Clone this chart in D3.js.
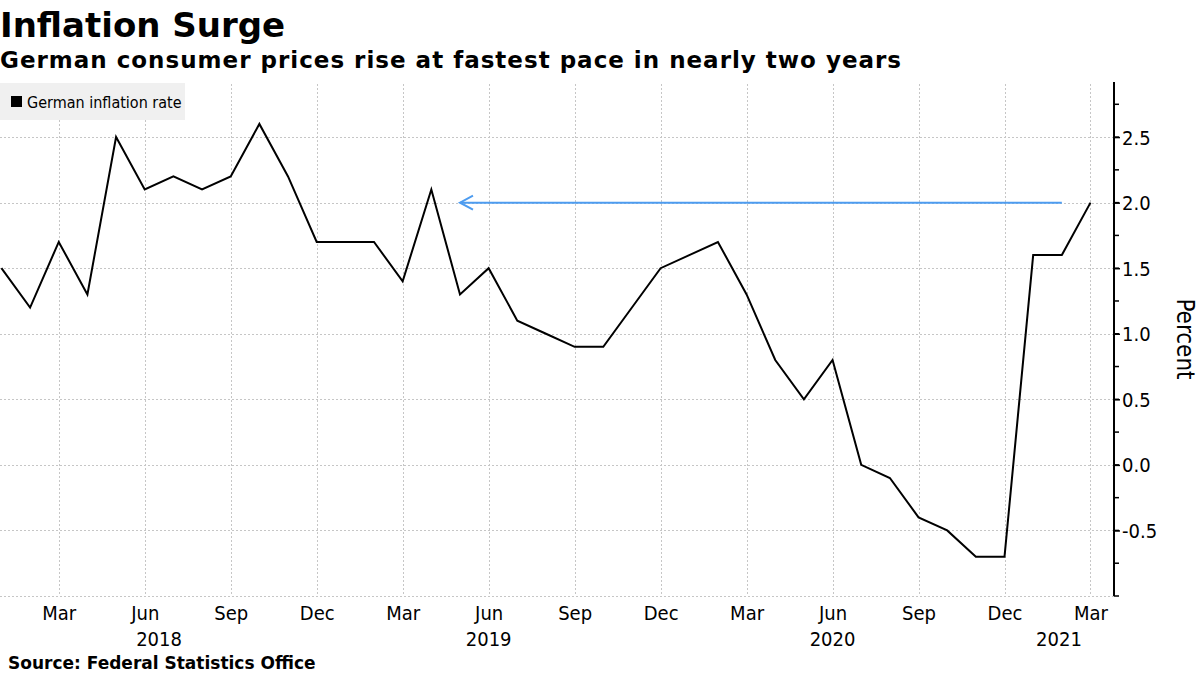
<!DOCTYPE html>
<html><head><meta charset="utf-8">
<script src="https://cdn.jsdelivr.net/npm/d3@7"></script>
<style>
body{margin:0;background:#fff;}
svg{display:block;}
.cond{font-family:"DejaVu Sans Condensed","DejaVu Sans",sans-serif;font-stretch:condensed;}
.bold{font-family:"DejaVu Sans","Verdana",sans-serif;font-weight:bold;}
</style></head>
<body>
<svg id="chart" width="1200" height="675"></svg>
<script>
// ---- data ----
const months = ["Jan 2018","Feb 2018","Mar 2018","Apr 2018","May 2018","Jun 2018","Jul 2018","Aug 2018","Sep 2018","Oct 2018","Nov 2018","Dec 2018",
"Jan 2019","Feb 2019","Mar 2019","Apr 2019","May 2019","Jun 2019","Jul 2019","Aug 2019","Sep 2019","Oct 2019","Nov 2019","Dec 2019",
"Jan 2020","Feb 2020","Mar 2020","Apr 2020","May 2020","Jun 2020","Jul 2020","Aug 2020","Sep 2020","Oct 2020","Nov 2020","Dec 2020",
"Jan 2021","Feb 2021","Mar 2021"];
const inflation = [1.5,1.2,1.7,1.3,2.5,2.1,2.2,2.1,2.2,2.6,2.2,1.7,
1.7,1.7,1.4,2.1,1.3,1.5,1.1,1.0,0.9,0.9,1.2,1.5,
1.6,1.7,1.3,0.8,0.5,0.8,0.0,-0.1,-0.4,-0.5,-0.7,-0.7,
1.6,1.6,2.0];
const monthTickIdx = [2,5,8,11,14,17,20,23,26,29,32,35,38];
const monthTickLabels = ["Mar","Jun","Sep","Dec","Mar","Jun","Sep","Dec","Mar","Jun","Sep","Dec","Mar"];
const yearLabels = ["2018","2019","2020","2021"];
const yearAnchorIdx = [5.5,17,29,36.9];
const yTicks = [-0.5,0,0.5,1.0,1.5,2.0,2.5];
const yGrid = [-1.0,-0.5,0,0.5,1.0,1.5,2.0,2.5];
const yMinorTicks = [-1.0,-0.75,-0.5,-0.25,0,0.25,0.5,0.75,1.0,1.25,1.5,1.75,2.0,2.25,2.5,2.75];
const arrowFromIdx = 37, arrowToIdx = 16, arrowValue = 2.0;

// ---- layout ----
const svg = d3.select("#chart");
const plotLeft = 0, plotRight = 1114, plotTop = 82, plotBottom = 596;
const x = d3.scaleLinear().domain([-0.05, 38.82]).range([plotLeft, plotRight]);
const y = d3.scaleLinear().domain([-1.0, 2.92]).range([plotBottom, plotTop]);

// titles
svg.append("text").attr("class","bold").attr("x",0).attr("y",37)
  .attr("font-size",34).attr("fill","#000").text("Inflation Surge");
svg.append("text").attr("class","bold").attr("x",0).attr("y",68)
  .attr("font-size",23).attr("letter-spacing",1).attr("fill","#000").text("German consumer prices rise at fastest pace in nearly two years");

// grid
const grid = svg.append("g").attr("stroke","#c6c6c6").attr("stroke-width",1).attr("stroke-dasharray","2,2").attr("fill","none");
grid.selectAll("line.h").data(yGrid).join("line").attr("class","h")
  .attr("x1",plotLeft).attr("x2",plotRight).attr("y1",d=>Math.round(y(d))+0.5).attr("y2",d=>Math.round(y(d))+0.5);
grid.selectAll("line.v").data(monthTickIdx).join("line").attr("class","v")
  .attr("x1",d=>Math.round(x(d))+0.5).attr("x2",d=>Math.round(x(d))+0.5).attr("y1",plotTop+2).attr("y2",plotBottom);

// legend
const leg = svg.append("g");
leg.append("rect").attr("x",0).attr("y",83).attr("width",185).attr("height",37).attr("fill","#f0f0f0");
leg.append("rect").attr("x",11).attr("y",96).attr("width",11).attr("height",11).attr("fill","#000");
leg.append("text").attr("class","cond").attr("x",27).attr("y",108).attr("font-size",16).attr("fill","#000").text("German inflation rate");

// right axis
const yAxis = d3.axisRight(y).tickValues(yTicks).tickSize(6).tickFormat(d3.format(".1f"));
const ax = svg.append("g").attr("transform",`translate(${plotRight},0)`).call(yAxis);
ax.select(".domain").remove();
ax.selectAll(".tick line").attr("stroke","#000").attr("stroke-width",1.5);
ax.selectAll(".tick text").attr("class","cond").attr("font-size",20).attr("fill","#000").attr("x",8).attr("dy","0.35em")
  .text(d=> d<0 ? "-"+Math.abs(d).toFixed(1) : d.toFixed(1));
svg.append("g").selectAll("line").data(yMinorTicks).join("line")
  .attr("x1",plotRight).attr("x2",plotRight+5).attr("y1",d=>y(d)).attr("y2",d=>y(d))
  .attr("stroke","#000").attr("stroke-width",1.5);
svg.append("line").attr("x1",plotRight).attr("x2",plotRight).attr("y1",plotTop).attr("y2",plotBottom)
  .attr("stroke","#000").attr("stroke-width",2);

svg.append("text").attr("class","cond").attr("font-size",24).attr("fill","#000")
  .attr("transform",`translate(1177,${(plotTop+plotBottom)/2}) rotate(90)`).attr("text-anchor","middle").text("Percent");

// x axis labels
const xAxis = d3.axisBottom(x).tickValues(monthTickIdx).tickSize(0).tickFormat((d,i)=>monthTickLabels[i]);
const xa = svg.append("g").attr("transform",`translate(0,${plotBottom})`).call(xAxis);
xa.select(".domain").remove();
xa.selectAll(".tick text").attr("class","cond").attr("font-size",20).attr("fill","#000").attr("y",10);
svg.append("g").selectAll("text").data(yearLabels).join("text").attr("class","cond")
  .attr("x",(d,i)=>x(yearAnchorIdx[i])).attr("y",646).attr("text-anchor","middle")
  .attr("font-size",20).attr("fill","#000").text(d=>d);

// line
const line = d3.line().x((d,i)=>x(i)).y(d=>y(d));
svg.append("path").datum(inflation).attr("d",line).attr("fill","none")
  .attr("stroke","#000").attr("stroke-width",2).attr("stroke-linejoin","miter");

// arrow
const ay = y(arrowValue), ax0 = x(arrowToIdx), ax1 = x(arrowFromIdx);
const arrowColor = "#4d9cf0";
svg.append("line").attr("x1",ax1).attr("x2",ax0).attr("y1",ay).attr("y2",ay).attr("stroke",arrowColor).attr("stroke-width",2);
svg.append("path").attr("d",`M${ax0+13},${ay-7} L${ax0},${ay} L${ax0+13},${ay+7}`)
  .attr("fill","none").attr("stroke",arrowColor).attr("stroke-width",2);

// source
svg.append("text").attr("class","bold").attr("x",8).attr("y",669).attr("font-size",17).attr("fill","#000")
  .text("Source: Federal Statistics Office");
</script>
</body></html>
